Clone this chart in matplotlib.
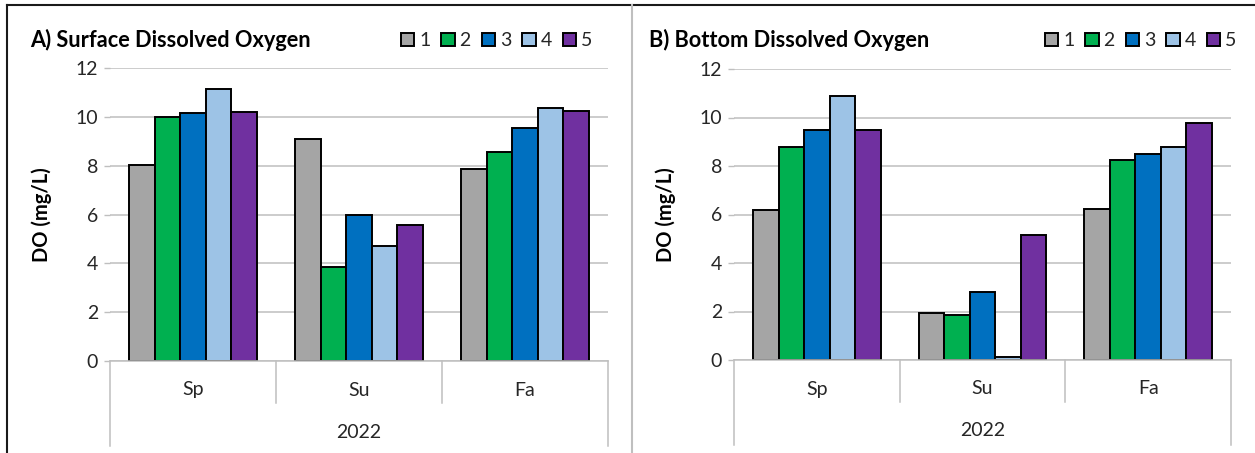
import matplotlib
matplotlib.use("Agg")
import matplotlib.pyplot as plt
import matplotlib.transforms as mtransforms
from matplotlib.lines import Line2D
import numpy as np

plt.rcParams['font.family'] = ['Lato', 'DejaVu Sans']

# Seasons, sites and dissolved-oxygen readings (mg/L)
seasons = ["Sp", "Su", "Fa"]
year_label = "2022"
sites = ["1", "2", "3", "4", "5"]
site_colors = ["#A5A5A5", "#00B050", "#0070C0", "#9DC3E6", "#7030A0"]

surface_do = {
    "1": [8.02, 9.08, 7.85],
    "2": [9.98, 3.85, 8.58],
    "3": [10.15, 5.97, 9.56],
    "4": [11.13, 4.73, 10.36],
    "5": [10.19, 5.59, 10.25],
}
bottom_do = {
    "1": [6.19, 1.92, 6.23],
    "2": [8.77, 1.84, 8.24],
    "3": [9.48, 2.79, 8.49],
    "4": [10.90, 0.13, 8.80],
    "5": [9.48, 5.16, 9.79],
}
y_ticks = [0, 2, 4, 6, 8, 10, 12]

W, H = 1255, 453
fig = plt.figure(figsize=(W / 100, H / 100), dpi=100)

grid_col = "#BFBFBF"
text_col = "#262626"
tick_fs = 14


def draw_panel(left_px, right_px, top_px, bottom_px, data, title, title_x_px, legend_x_px):
    ax = fig.add_axes([left_px / W, 1 - bottom_px / H,
                       (right_px - left_px) / W, (bottom_px - top_px) / H])
    n = len(sites)
    width = 1.0 / (n + 1.5)
    x = np.arange(len(seasons))
    handles = []
    for i, s in enumerate(sites):
        b = ax.bar(x + (i - (n - 1) / 2) * width, data[s], width,
                   color=site_colors[i], edgecolor="black", linewidth=1.4,
                   zorder=3, label=s)
        handles.append(b)
    ax.set_xlim(-0.5, len(seasons) - 0.5)
    ax.set_ylim(0, 12)
    ax.set_yticks(y_ticks)
    ax.yaxis.grid(True, color=grid_col, linewidth=1.1, zorder=0)
    ax.set_axisbelow(True)
    for sp in ["top", "right", "left"]:
        ax.spines[sp].set_visible(False)
    ax.spines["bottom"].set_color(grid_col)
    ax.spines["bottom"].set_linewidth(1.1)
    ax.spines["bottom"].set_zorder(4)
    ax.tick_params(axis="y", length=4.5, width=1.0, color=grid_col,
                   labelsize=tick_fs, labelcolor=text_col, pad=4)
    ax.tick_params(axis="x", length=0, labelbottom=False)
    ax.set_ylabel("DO (mg/L)", fontsize=14.5, fontweight="bold", color="black")
    ax.yaxis.set_label_coords(-0.117, 0.5)

    # Two-level category axis: season labels and year beneath
    trans = mtransforms.blended_transform_factory(ax.transData, ax.transAxes)
    h_ax = bottom_px - top_px
    sep_drop = -(42 / h_ax)
    outer_drop = -(85 / h_ax)
    for k in range(len(seasons) + 1):
        xb = k - 0.5
        yend = outer_drop if k in (0, len(seasons)) else sep_drop
        ax.add_line(Line2D([xb, xb], [0, yend], transform=trans, color=grid_col,
                           linewidth=1.1, clip_on=False))
    for k, s in enumerate(seasons):
        ax.text(k, -(29 / h_ax), s, transform=trans, ha="center", va="center",
                fontsize=tick_fs, color=text_col)
    ax.text((len(seasons) - 1) / 2, -(71 / h_ax), year_label, transform=trans,
            ha="center", va="center", fontsize=tick_fs, color=text_col)

    fig.text(title_x_px / W, 1 - 40 / H, title, ha="left", va="center",
             fontsize=15.7, fontweight="bold", color="black")
    fig.legend(handles=handles, labels=sites, ncol=n, loc="center left",
               bbox_to_anchor=(legend_x_px / W, 1 - 41 / H), frameon=False,
               fontsize=14, handlelength=0.68, handleheight=0.68,
               handletextpad=0.25, columnspacing=0.57, borderpad=0,
               borderaxespad=0, labelcolor=text_col)
    return ax


draw_panel(110, 608, 68, 361, surface_do, "A) Surface Dissolved Oxygen", 30, 401)
draw_panel(734, 1231, 69, 360, bottom_do, "B) Bottom Dissolved Oxygen", 649, 1045)

# Outer frame and panel divider
fig.add_artist(Line2D([7 / W, 1], [1 - 5 / H, 1 - 5 / H], transform=fig.transFigure,
                      color="#1a1a1a", linewidth=1.5))
fig.add_artist(Line2D([7 / W, 7 / W], [0, 1 - 5 / H], transform=fig.transFigure,
                      color="#1a1a1a", linewidth=1.5))
fig.add_artist(Line2D([632 / W, 632 / W], [0, 1 - 5 / H], transform=fig.transFigure,
                      color="#BFBFBF", linewidth=1.5))

fig.savefig("out.png", dpi=100)
